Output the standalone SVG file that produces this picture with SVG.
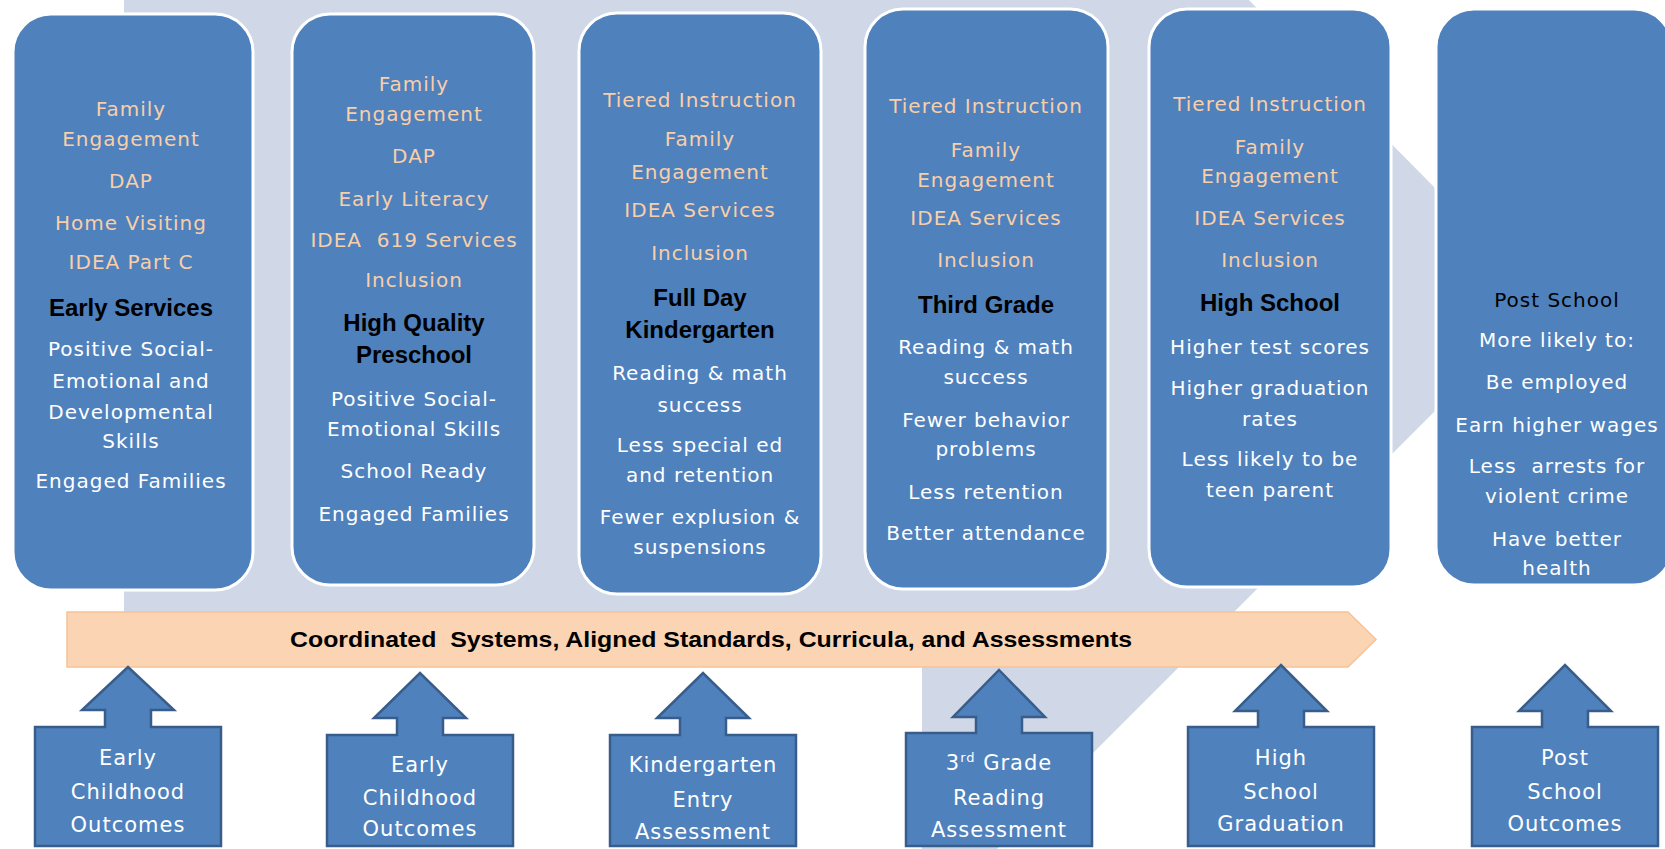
<svg xmlns="http://www.w3.org/2000/svg" width="1665" height="849" viewBox="0 0 1665 849">
<style>
.box{fill:#4F81BD;stroke:#FFFFFF;stroke-width:3}
.arr{fill:#4F81BD;stroke:#385D8A;stroke-width:2.5;stroke-linejoin:miter}
.t{font-family:'DejaVu Sans','Liberation Sans',sans-serif;font-size:20px;letter-spacing:1px;text-anchor:middle}
.at{font-family:'DejaVu Sans','Liberation Sans',sans-serif;font-size:21px;letter-spacing:1px;text-anchor:middle;fill:#FFFFFF}
.pe{fill:#F8CFA9}
.wh{fill:#FFFFFF}
.bk{fill:#000000}
.pre{white-space:pre}
.hd{font-family:'Liberation Sans',Arial,sans-serif;font-weight:bold;font-size:24px;fill:#000000;text-anchor:middle}
.bar{fill:#FBD4B4;stroke:#F7C296;stroke-width:1.5}
.bart{font-family:'Liberation Sans',Arial,sans-serif;font-weight:bold;font-size:22px;fill:#000000;white-space:pre}
</style>
<rect width="1665" height="849" fill="#FFFFFF"/>
<polygon id="background-arrow" points="124,-50 922,-50 922,-330 1546,300 922,924 922,640 124,640" fill="#D0D8E8"/>

<g id="box-early-services">
<rect class="box" x="13" y="14" width="240" height="576" rx="38"/>
<g class="t pe">
<text x="131" y="116">Family</text>
<text x="131" y="146">Engagement</text>
<text x="131" y="188">DAP</text>
<text x="131" y="230">Home Visiting</text>
<text x="131" y="269">IDEA Part C</text>
</g>
<text class="hd" x="131" y="316">Early Services</text>
<g class="t wh">
<text x="131" y="356">Positive Social-</text>
<text x="131" y="388">Emotional and</text>
<text x="131" y="419">Developmental</text>
<text x="131" y="448">Skills</text>
<text x="131" y="488">Engaged Families</text>
</g>
</g>

<g id="box-preschool">
<rect class="box" x="292" y="14" width="242" height="571" rx="38"/>
<g class="t pe">
<text x="414" y="91">Family</text>
<text x="414" y="121">Engagement</text>
<text x="414" y="163">DAP</text>
<text x="414" y="206">Early Literacy</text>
<text class="pre" x="414" y="247" xml:space="preserve">IDEA  619 Services</text>
<text x="414" y="287">Inclusion</text>
</g>
<text class="hd" x="414" y="331">High Quality</text>
<text class="hd" x="414" y="363">Preschool</text>
<g class="t wh">
<text x="414" y="406">Positive Social-</text>
<text x="414" y="436">Emotional Skills</text>
<text x="414" y="478">School Ready</text>
<text x="414" y="521">Engaged Families</text>
</g>
</g>

<g id="box-kindergarten">
<rect class="box" x="579" y="13" width="242" height="581" rx="38"/>
<g class="t pe">
<text x="700" y="107">Tiered Instruction</text>
<text x="700" y="146">Family</text>
<text x="700" y="179">Engagement</text>
<text x="700" y="217">IDEA Services</text>
<text x="700" y="260">Inclusion</text>
</g>
<text class="hd" x="700" y="306">Full Day</text>
<text class="hd" x="700" y="338">Kindergarten</text>
<g class="t wh">
<text x="700" y="380">Reading &amp; math</text>
<text x="700" y="412">success</text>
<text x="700" y="452">Less special ed</text>
<text x="700" y="482">and retention</text>
<text x="700" y="524">Fewer explusion &amp;</text>
<text x="700" y="554">suspensions</text>
</g>
</g>

<g id="box-third-grade">
<rect class="box" x="865" y="9" width="243" height="580" rx="38"/>
<g class="t pe">
<text x="986" y="113">Tiered Instruction</text>
<text x="986" y="157">Family</text>
<text x="986" y="187">Engagement</text>
<text x="986" y="225">IDEA Services</text>
<text x="986" y="267">Inclusion</text>
</g>
<text class="hd" x="986" y="313">Third Grade</text>
<g class="t wh">
<text x="986" y="354">Reading &amp; math</text>
<text x="986" y="384">success</text>
<text x="986" y="427">Fewer behavior</text>
<text x="986" y="456">problems</text>
<text x="986" y="499">Less retention</text>
<text x="986" y="540">Better attendance</text>
</g>
</g>

<g id="box-high-school">
<rect class="box" x="1149" y="9" width="242" height="578" rx="38"/>
<g class="t pe">
<text x="1270" y="111">Tiered Instruction</text>
<text x="1270" y="154">Family</text>
<text x="1270" y="183">Engagement</text>
<text x="1270" y="225">IDEA Services</text>
<text x="1270" y="267">Inclusion</text>
</g>
<text class="hd" x="1270" y="311">High School</text>
<g class="t wh">
<text x="1270" y="354">Higher test scores</text>
<text x="1270" y="395">Higher graduation</text>
<text x="1270" y="426">rates</text>
<text x="1270" y="466">Less likely to be</text>
<text x="1270" y="497">teen parent</text>
</g>
</g>

<g id="box-post-school">
<rect class="box" x="1436" y="9" width="236" height="576" rx="38"/>
<text class="t bk" x="1557" y="307">Post School</text>
<g class="t wh">
<text x="1557" y="347">More likely to:</text>
<text x="1557" y="389">Be employed</text>
<text x="1557" y="432">Earn higher wages</text>
<text class="pre" x="1557" y="473" xml:space="preserve">Less  arrests for</text>
<text x="1557" y="503">violent crime</text>
<text x="1557" y="546">Have better</text>
<text x="1557" y="575">health</text>
</g>
</g>

<g id="bar-coordinated-systems">
<polygon class="bar" points="67,612 1348,612 1376,639.5 1348,667 67,667"/>
<text class="bart" x="290" y="647" textLength="842" lengthAdjust="spacingAndGlyphs" xml:space="preserve">Coordinated  Systems, Aligned Standards, Curricula, and Assessments</text>
</g>

<g id="connectors">
<g id="arrow-early-childhood-1">
<path class="arr" d="M35,727 H105 V710 H82 L128,667 L174,710 H151 V727 H221 V846 H35 Z"/>
<text class="at" x="128" y="765">Early</text>
<text class="at" x="128" y="799">Childhood</text>
<text class="at" x="128" y="832">Outcomes</text>
</g>
<g id="arrow-early-childhood-2">
<path class="arr" d="M327,735 H397 V718 H374 L420,673 L466,718 H443 V735 H513 V846 H327 Z"/>
<text class="at" x="420" y="772">Early</text>
<text class="at" x="420" y="805">Childhood</text>
<text class="at" x="420" y="836">Outcomes</text>
</g>
<g id="arrow-kindergarten-entry">
<path class="arr" d="M610,735 H680 V718 H657 L703,673 L749,718 H726 V735 H796 V846 H610 Z"/>
<text class="at" x="703" y="772">Kindergarten</text>
<text class="at" x="703" y="807">Entry</text>
<text class="at" x="703" y="839">Assessment</text>
</g>
<g id="arrow-third-grade-reading">
<path class="arr" d="M906,733 H976 V717 H953 L999,670 L1045,717 H1022 V733 H1092 V846 H906 Z"/>
<text class="at" x="999" y="770">3<tspan font-size="13" dy="-8">rd</tspan><tspan dy="8"> Grade</tspan></text>
<text class="at" x="999" y="805">Reading</text>
<text class="at" x="999" y="837">Assessment</text>
</g>
<g id="arrow-high-school-graduation">
<path class="arr" d="M1188,727 H1258 V711 H1235 L1281,665 L1327,711 H1304 V727 H1374 V846 H1188 Z"/>
<text class="at" x="1281" y="765">High</text>
<text class="at" x="1281" y="799">School</text>
<text class="at" x="1281" y="831">Graduation</text>
</g>
<g id="arrow-post-school-outcomes">
<path class="arr" d="M1472,727 H1542 V711 H1519 L1565,665 L1611,711 H1588 V727 H1658 V846 H1472 Z"/>
<text class="at" x="1565" y="765">Post</text>
<text class="at" x="1565" y="799">School</text>
<text class="at" x="1565" y="831">Outcomes</text>
</g>
</g>
</svg>
